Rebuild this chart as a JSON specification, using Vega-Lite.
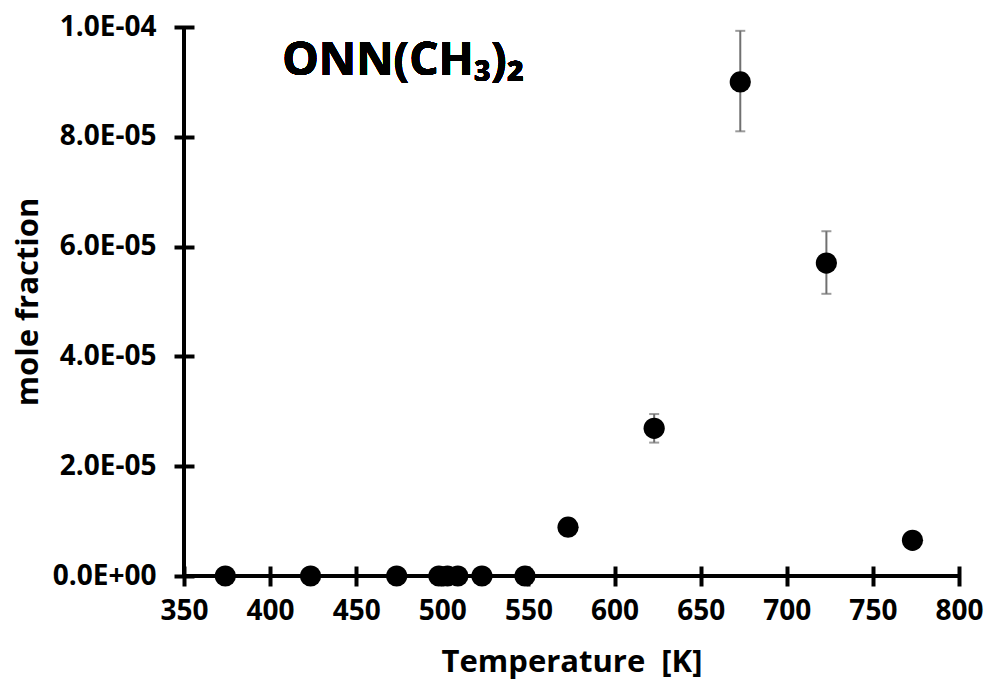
{
  "$schema": "https://vega.github.io/schema/vega-lite/v6.json",
  "width": 775,
  "height": 549,
  "autosize": {"type": "none"},
  "padding": {"left": 184, "top": 27, "right": 33, "bottom": 108},
  "background": "white",
  "config": {
    "view": {"stroke": null},
    "font": "Open Sans",
    "axis": {
      "domain": false,
      "grid": false,
      "tickSize": 20,
      "offset": -10,
      "tickWidth": 4,
      "tickColor": "black",
      "labelFlush": false,
      "labelFont": "Open Sans",
      "labelFontWeight": "bold",
      "labelFontSize": 28,
      "labelColor": "black",
      "titleFont": "Open Sans",
      "titleFontWeight": "bold",
      "titleFontSize": 31,
      "titleColor": "black"
    }
  },
  "data": {
    "values": [
      {"T": 374, "mf": 0},
      {"T": 423.5, "mf": 0},
      {"T": 473.5, "mf": 0},
      {"T": 498, "mf": 0},
      {"T": 503, "mf": 0},
      {"T": 509, "mf": 0},
      {"T": 523, "mf": 0},
      {"T": 548, "mf": 0},
      {"T": 573, "mf": 8.9e-6},
      {"T": 623, "mf": 2.69e-5, "lo": 2.43e-5, "hi": 2.95e-5},
      {"T": 673, "mf": 9.0e-5, "lo": 8.1e-5, "hi": 9.93e-5},
      {"T": 723, "mf": 5.7e-5, "lo": 5.14e-5, "hi": 6.28e-5},
      {"T": 773, "mf": 6.5e-6}
    ]
  },
  "encoding": {
    "x": {
      "field": "T",
      "type": "quantitative",
      "scale": {"domain": [350, 800], "nice": false, "zero": false},
      "axis": {
        "values": [350, 400, 450, 500, 550, 600, 650, 700, 750, 800],
        "title": "Temperature\u00a0 [K]",
        "labelPadding": 11,
        "titlePadding": 22
      }
    },
    "y": {
      "field": "mf",
      "type": "quantitative",
      "scale": {"domain": [0, 0.0001], "nice": false},
      "axis": {
        "values": [0, 0.00002, 0.00004, 0.00006, 0.00008, 0.0001],
        "title": "mole fraction",
        "labelPadding": 18,
        "titlePadding": 8,
        "labelExpr": "datum.value == 0 ? '0.0E+00' : format(datum.value / pow(10, floor(log(datum.value) / LN10 + 1e-9)), '.1f') + 'E-' + format(-floor(log(datum.value) / LN10 + 1e-9), '02d')"
      }
    }
  },
  "layer": [
    {
      "mark": {"type": "rule", "color": "black", "strokeWidth": 4},
      "encoding": {"y": {"datum": 0}, "x": null}
    },
    {
      "mark": {"type": "rule", "color": "black", "strokeWidth": 4},
      "encoding": {"x": {"datum": 350}, "y": null}
    },
    {
      "transform": [{"filter": "isValid(datum.lo)"}],
      "mark": {"type": "rule", "color": "#707070", "strokeWidth": 2},
      "encoding": {
        "y": {"field": "lo", "type": "quantitative"},
        "y2": {"field": "hi"}
      }
    },
    {
      "transform": [{"filter": "isValid(datum.lo)"}],
      "mark": {"type": "tick", "orient": "horizontal", "color": "#707070", "size": 10, "thickness": 2},
      "encoding": {"y": {"field": "lo", "type": "quantitative"}}
    },
    {
      "transform": [{"filter": "isValid(datum.hi)"}],
      "mark": {"type": "tick", "orient": "horizontal", "color": "#707070", "size": 10, "thickness": 2},
      "encoding": {"y": {"field": "hi", "type": "quantitative"}}
    },
    {
      "mark": {"type": "circle", "color": "black", "opacity": 1, "size": 450}
    },
    {
      "mark": {
        "type": "text",
        "text": "ONN(CH\u2083)\u2082",
        "align": "left",
        "baseline": "alphabetic",
        "font": "Open Sans",
        "fontWeight": "bold",
        "fontSize": 46,
        "color": "black"
      },
      "encoding": {"x": {"datum": 407}, "y": {"datum": 0.0000912}}
    }
  ]
}
